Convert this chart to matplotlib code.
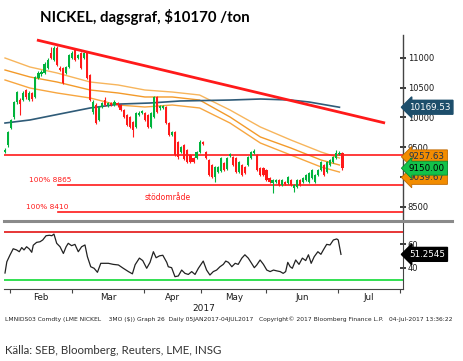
import matplotlib
matplotlib.use("Agg")
import matplotlib.pyplot as plt
import matplotlib.transforms as mtransforms
from matplotlib.lines import Line2D

# ---------------- data ----------------
opens = [9420, 9530, 9820, 10000, 10250, 10290, 10290, 10460, 10290, 10410,
         10340, 10660, 10720, 10740, 10830, 11080, 10960, 11160, 10830, 10830,
         10740, 10840, 10990, 11130, 10990, 11080, 10990, 11100, 10710, 10090,
         10210, 9960, 10170, 10290, 10200, 10240, 10210, 10240, 10210, 10120,
         10040, 10010, 9920, 9840, 10040, 10070, 10070, 10040, 9840, 10010,
         10340, 10150, 10160, 10170, 9910, 9710, 9760, 9590, 9420, 9540,
         9450, 9370, 9320, 9320, 9420, 9590, 9420, 9290, 9200, 9000,
         9090, 9100, 9240, 9140, 9350, 9340, 9320, 9090, 9200, 9170,
         9200, 9320, 9400, 9370, 9150, 9150, 9120, 8990, 8900, 8920,
         8950, 8870, 8920, 8900, 8950, 8820, 8840, 8950, 8920, 8950,
         8920, 8990, 8920, 9040, 9120, 9200, 9090, 9200, 9250, 9320,
         9390, 9400]
closes = [9460, 9750, 9950, 10250, 10420, 10230, 10410, 10340, 10410, 10300,
          10670, 10740, 10760, 10900, 10960, 11000, 11170, 10880, 10790, 10580,
          10840, 11040, 11080, 10960, 11050, 10830, 11080, 10660, 10290, 10250,
          9910, 10170, 10240, 10210, 10240, 10210, 10250, 10200, 10120, 10010,
          9870, 9840, 9790, 10070, 10080, 10100, 9960, 9840, 10070, 10340,
          10090, 10190, 10190, 9910, 9710, 9760, 9370, 9330, 9500, 9310,
          9250, 9250, 9250, 9420, 9590, 9560, 9320, 9040, 9000, 9170,
          9170, 9320, 9120, 9320, 9380, 9200, 9090, 9250, 9040, 9070,
          9340, 9420, 9440, 9120, 9040, 9040, 8950, 8920, 8950, 8950,
          8870, 8950, 8890, 9000, 8870, 8870, 8950, 8870, 8990, 9040,
          9070, 9120, 9040, 9120, 9250, 9040, 9250, 9290, 9340, 9400,
          9400, 9150]
highs = [9480, 9770, 9980, 10270, 10450, 10320, 10440, 10480, 10440, 10430,
         10700, 10770, 10790, 10920, 10990, 11180, 11200, 11190, 10860, 10850,
         10860, 11060, 11110, 11150, 11070, 11100, 11100, 11120, 10730, 10290,
         10240, 10190, 10260, 10340, 10260, 10260, 10290, 10260, 10230, 10140,
         10060, 10030, 9940, 10090, 10100, 10120, 10090, 10060, 10090, 10360,
         10360, 10210, 10210, 10190, 9930, 9780, 9780, 9610, 9520, 9560,
         9470, 9390, 9340, 9440, 9620, 9610, 9440, 9310, 9220, 9190,
         9190, 9340, 9260, 9340, 9400, 9360, 9340, 9270, 9220, 9190,
         9360, 9440, 9470, 9390, 9170, 9170, 9140, 9010, 8970, 8970,
         8970, 8970, 8940, 9020, 8970, 8890, 8970, 8970, 9010, 9060,
         9090, 9140, 9060, 9140, 9270, 9220, 9270, 9310, 9360, 9460,
         9440, 9420]
lows = [9400, 9510, 9800, 9980, 10230, 10040, 10270, 10300, 10270, 10280,
        10320, 10640, 10700, 10720, 10810, 10980, 10940, 10860, 10770, 10560,
        10720, 10820, 10970, 10940, 10970, 10810, 10970, 10640, 10270, 10060,
        9890, 9940, 10150, 10190, 10180, 10190, 10190, 10180, 10100, 9990,
        9850, 9820, 9670, 9820, 10020, 10050, 9940, 9820, 9820, 9990,
        10070, 10130, 10140, 9890, 9690, 9690, 9350, 9310, 9400, 9290,
        9230, 9230, 9230, 9300, 9400, 9540, 9300, 9020, 8980, 8920,
        9070, 9080, 9100, 9120, 9330, 9180, 9070, 9070, 9020, 9050,
        9180, 9300, 9380, 9100, 9020, 9020, 8930, 8900, 8730, 8900,
        8850, 8850, 8870, 8880, 8850, 8750, 8820, 8850, 8900, 8930,
        8900, 8970, 8900, 9020, 9100, 9020, 9070, 9180, 9230, 9300,
        9370, 9120]

# moving-average style lines (trading-day index, price)
band_x = [0, 8.2, 17.1, 28, 37.2, 46, 55, 64, 74, 84, 94, 104, 110]
band_upper = [10995, 10844, 10744, 10593, 10543, 10459, 10425, 10375, 10124, 9839, 9622, 9420, 9320]
band_mid = [10794, 10677, 10593, 10459, 10409, 10342, 10342, 10291, 10007, 9672, 9488, 9286, 9203]
band_lower = [10627, 10492, 10409, 10325, 10208, 10174, 10208, 10158, 9906, 9571, 9370, 9169, 9085]

ma200_x = [0, 8.2, 18, 28, 37.8, 47.7, 57.6, 74, 84, 94, 100, 110]
ma200 = [9906, 9957, 10057, 10158, 10224, 10241, 10275, 10291, 10308, 10291, 10258, 10170]

trend_x = [10.5, 125]
trend_y = [11296, 9906]

resistance = 9370
support_levels = [8865, 8410]
support_labels = ["100% 8865", "100% 8410"]

rsi_x = [0, 0.6, 1.6, 2.7, 3.8, 4.7, 5.5, 6.25, 7.1, 8, 8.8, 9.3, 10.4, 11.5, 12.4,
         13.5, 14.6, 15.4, 16.1, 17, 18.1, 19.2, 20.1, 20.8, 21.9, 23, 24.1, 25.2,
         26.3, 27.1, 28.2, 29.3, 30.4, 31.5, 32.6, 34, 35.6, 37.3, 38.9, 40.6, 41.9,
         42.8, 44.2, 45.3, 46.6, 47.7, 48.8, 49.7, 50.8, 51.9, 53.2, 53.7, 54.8,
         55.9, 57, 58.1, 59.2, 60.3, 61.4, 62.5, 63.6, 65.2, 66.3, 67.4, 68.5,
         69.6, 70.7, 71.8, 72.6, 73.5, 74.6, 75.7, 76.7, 77.9, 78.9, 80, 80.9, 82,
         82.8, 83.9, 85, 86.1, 87.2, 88.3, 89.4, 90.5, 91.5, 92.3, 93, 93.8, 94.5,
         95.6, 96.7, 97.8, 98.9, 99.8, 100.7, 101.7, 102.9, 103.9, 104.7, 105.8,
         106.9, 108, 109.1, 109.6, 110.5]
rsi = [35.5, 45, 50.5, 56, 55, 53.5, 57, 55, 57.7, 55.8, 53, 59, 61.4, 61.9, 63.4,
       67, 67.4, 67, 68.4, 60.6, 57.7, 52, 57.7, 60.6, 58.6, 59.7, 53.5, 57.7,
       59.2, 49.3, 40.8, 39.5, 36.1, 43.7, 43.7, 43.7, 42.8, 42.3, 39.5, 36.7, 34.8,
       42.5, 48.1, 46, 39.5, 44.5, 53.5, 48.4, 50, 50.5, 44.5, 40.8, 40,
       32.4, 33, 38, 35.2, 34.3, 36.7, 34.3, 39.5, 45.6, 38, 33.8, 36.7,
       38, 40.8, 42.8, 45.6, 44.5, 40.8, 43.7, 42.8, 48.1, 50.9, 48.1, 44.5, 40,
       42.3, 46.5, 42.8, 38, 36.7, 38, 37.3, 36.7, 35.2, 36.7, 44.5, 40.8, 39.5,
       46.5, 42.8, 48.1, 46, 50.9, 43.7, 49.3, 53.5, 51.3, 55, 59.7,
       59.2, 63.4, 64.3, 63.4, 51.2545]
rsi_upper, rsi_lower = 70, 30

month_starts = [1.6, 22, 45.7, 64.5, 85.9, 109.5, 130]
month_names = ["Feb", "Mar", "Apr", "May", "Jun", "Jul"]
price_ticks = [8500, 9000, 9500, 10000, 10500, 11000]
price_ticklabels = ["8500", "", "9500", "10000", "10500", "11000"]
rsi_ticks = [40, 60]

# ---------------- figure ----------------
W, H = 464, 361
fig = plt.figure(figsize=(W / 100, H / 100), dpi=100)
fig.patch.set_facecolor("white")
plt.rcParams["font.family"] = ["DejaVu Sans"]

GREEN = "#00b33c"
RED = "#ff1a1a"

ax = fig.add_axes([4 / W, 1 - 220 / H, 399 / W, 185 / H])
ax.set_xlim(-0.33, 130.9)
ax.set_ylim(8282, 11380)

idx = list(range(len(opens)))
cols = [GREEN if c >= o else RED for o, c in zip(opens, closes)]
ax.vlines(idx, lows, highs, colors=cols, lw=0.8, zorder=3)
ax.bar(idx, [c - o for o, c in zip(opens, closes)], bottom=opens, width=0.7,
       color=cols, linewidth=0, zorder=3)

ax.plot(band_x, band_upper, color="#f7b55c", lw=1.0, zorder=2)
ax.plot(band_x, band_mid, color="#f39a2a", lw=1.0, zorder=2)
ax.plot(band_x, band_lower, color="#f7a640", lw=1.0, zorder=2)
ax.plot(ma200_x, ma200, color="#2f5b78", lw=1.2, zorder=2)
ax.plot(trend_x, trend_y, color="#ff1a1a", lw=2.0, zorder=4, solid_capstyle="butt")

ax.axhline(resistance, color=RED, lw=1.2, zorder=2)
for lvl, lab in zip(support_levels, support_labels):
    ax.plot([17.5, 130.9], [lvl, lvl], color=RED, lw=1.2, zorder=2)
ax.text(7.8, support_levels[0] + 40, support_labels[0], color=RED, fontsize=5.3,
        va="bottom", ha="left")
ax.text(6.8, support_levels[1] + 40, support_labels[1], color=RED, fontsize=5.3,
        va="bottom", ha="left")
ax.text(46, (support_levels[0] + support_levels[1]) / 2 + 20, "stödområde",
        color=RED, fontsize=5.5, va="center", ha="left")

for s in ["left", "top", "bottom"]:
    ax.spines[s].set_visible(False)
ax.spines["right"].set_color("#444444")
ax.spines["right"].set_linewidth(1.0)
ax.yaxis.tick_right()
ax.set_yticks(price_ticks)
ax.set_yticklabels(price_ticklabels)
ax.tick_params(axis="y", direction="inout", length=5, width=1.2, labelsize=6,
               pad=1, colors="#1a1a1a")
ax.set_xticks([])

blend = mtransforms.blended_transform_factory(ax.transAxes, ax.transData)
box_x = 1.015
ax.text(box_x, ma200[-1], "10169.53", transform=blend, color="white", fontsize=6.3,
        va="center", ha="left", clip_on=False, zorder=10,
        bbox=dict(boxstyle="larrow,pad=0.28", fc="#1d4e6b", ec="#1d4e6b"))
ax.text(box_x, band_upper[-1] + 20, "9257.63", transform=blend, color="#1d3350", fontsize=6.3,
        va="center", ha="left", clip_on=False, zorder=10,
        bbox=dict(boxstyle="larrow,pad=0.28", fc="#f28c00", ec="#c06800", lw=0.6))
ax.text(box_x, band_lower[-1] - 90, "9039.67", transform=blend, color="#1d3350", fontsize=6.3,
        va="center", ha="left", clip_on=False, zorder=10,
        bbox=dict(boxstyle="larrow,pad=0.28", fc="#f28c00", ec="#c06800", lw=0.6))
ax.text(box_x, closes[-1], "9150.00", transform=blend, color="black", fontsize=6.3,
        va="center", ha="left", clip_on=False, zorder=11,
        bbox=dict(boxstyle="larrow,pad=0.28", fc="#12c24a", ec="#0a8a30", lw=0.6))

# ---------------- RSI panel ----------------
ax2 = fig.add_axes([4 / W, 1 - 289 / H, 399 / W, 67 / H])
ax2.set_xlim(-0.33, 130.9)
ax2.set_ylim(22, 78.6)
ax2.plot(rsi_x, rsi, color="#222222", lw=0.9, zorder=3)
ax2.axhline(rsi_upper, color="#e00000", lw=1.1)
ax2.axhline(rsi_lower, color="#22dd44", lw=1.3)
for s in ["left", "top"]:
    ax2.spines[s].set_visible(False)
ax2.spines["right"].set_color("#444444")
ax2.spines["bottom"].set_color("#444444")
ax2.yaxis.tick_right()
ax2.set_yticks(rsi_ticks)
ax2.tick_params(axis="y", direction="inout", length=5, width=1.2, labelsize=6,
                pad=1, colors="#1a1a1a")
ax2.set_xticks(month_starts)
ax2.set_xticklabels([])
mids = [(a + b) / 2 for a, b in zip(month_starts[:-1], month_starts[1:])]
ax2.set_xticks(mids, minor=True)
ax2.set_xticklabels(month_names, minor=True)
ax2.tick_params(axis="x", which="major", direction="out", length=3, width=0.8,
                colors="#444444")
ax2.tick_params(axis="x", which="minor", length=0, labelsize=6.3, pad=3,
                labelcolor="#1a1a1a")
ax2.set_xlabel("2017", fontsize=6.5, labelpad=1, color="#1a1a1a")
blend2 = mtransforms.blended_transform_factory(ax2.transAxes, ax2.transData)
ax2.text(box_x, rsi[-1], "51.2545", transform=blend2, color="white", fontsize=6.3,
         va="center", ha="left", clip_on=False, zorder=10,
         bbox=dict(boxstyle="larrow,pad=0.28", fc="black", ec="black"))

# separator between panels
fig.add_artist(Line2D([4 / W, 452 / W], [1 - 220.5 / H, 1 - 220.5 / H],
                      transform=fig.transFigure, color="#8a8a8a", lw=2.2))

# ---------------- texts ----------------
fig.text(40 / W, 1 - 17 / H, "NICKEL, dagsgraf, $10170 /ton", fontsize=10.8,
         fontweight="bold", family="Lato", va="center", ha="left", color="black")
fig.text(5 / W, 1 - 319 / H,
         "LMNIDS03 Comdty (LME NICKEL    3MO ($)) Graph 26  Daily 05JAN2017-04JUL2017   "
         "Copyright\u00a9 2017 Bloomberg Finance L.P.   04-Jul-2017 13:36:22",
         fontsize=4.3, va="center", ha="left", color="#222222")
fig.text(5 / W, 1 - 350 / H, "Källa: SEB, Bloomberg, Reuters, LME, INSG",
         fontsize=8.3, family="Lato", va="center", ha="left", color="#333333")

fig.savefig("out.png", dpi=100, facecolor="white")
